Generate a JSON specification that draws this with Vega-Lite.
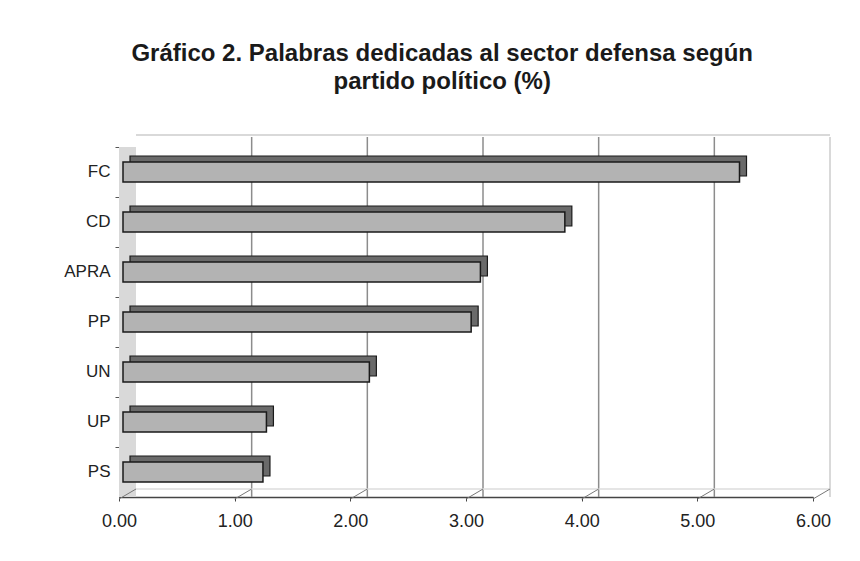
{
  "$schema": "https://vega.github.io/schema/vega-lite/v6.json",
  "width": 694,
  "height": 350,
  "autosize": {"type": "none"},
  "padding": {"left": 119, "top": 147, "right": 47, "bottom": 64},
  "background": "white",
  "title": {
    "text": ["Gráfico 2. Palabras dedicadas al sector defensa según", "partido político (%)"],
    "font": "Liberation Sans",
    "fontSize": 24,
    "fontWeight": "bold",
    "color": "#1a1a1a",
    "lineHeight": 28,
    "anchor": "middle",
    "frame": "bounds",
    "dx": -5,
    "offset": 40
  },
  "datasets": {
    "partidos": [
      {"partido": "FC", "valor": 5.33},
      {"partido": "CD", "valor": 3.82},
      {"partido": "APRA", "valor": 3.09},
      {"partido": "PP", "valor": 3.01},
      {"partido": "UN", "valor": 2.13},
      {"partido": "UP", "valor": 1.24},
      {"partido": "PS", "valor": 1.21}
    ],
    "marcas": [
      {"v": 0}, {"v": 1}, {"v": 2}, {"v": 3}, {"v": 4}, {"v": 5}, {"v": 6}
    ]
  },
  "config": {
    "view": {"stroke": null},
    "axis": {"labelFont": "Liberation Sans", "labelColor": "#222222", "labelFontSize": 18}
  },
  "layer": [
    {
      "data": {"values": [{}]},
      "mark": {"type": "rect", "fill": "#d9d9d9", "x2Offset": 17},
      "encoding": {
        "x": {"datum": 0, "type": "quantitative", "scale": {"domain": [0, 6]}},
        "x2": {"datum": 0}
      }
    },
    {
      "data": {"name": "marcas"},
      "transform": [{"filter": "datum.v > 0"}],
      "mark": {"type": "rule", "xOffset": 17, "yOffset": -10, "strokeWidth": 1.5},
      "encoding": {
        "x": {"field": "v", "type": "quantitative", "scale": {"domain": [0, 6]}},
        "color": {"condition": {"test": "datum.v == 6", "value": "#cccccc"}, "value": "#8c8c8c"}
      }
    },
    {
      "data": {"values": [{}]},
      "mark": {"type": "rule", "color": "#cccccc", "strokeWidth": 1.5, "xOffset": 17, "x2Offset": 17, "yOffset": -12, "y2Offset": -12},
      "encoding": {
        "x": {"datum": 0, "type": "quantitative"},
        "x2": {"datum": 6},
        "y": {"datum": "FC", "type": "nominal", "bandPosition": 0, "scale": {"domain": ["FC", "CD", "APRA", "PP", "UN", "UP", "PS"]}}
      }
    },
    {
      "data": {"values": [{}]},
      "mark": {"type": "rule", "color": "#dddddd", "strokeWidth": 1.5, "xOffset": 17, "x2Offset": 17, "yOffset": -8, "y2Offset": -8},
      "encoding": {
        "x": {"datum": 0, "type": "quantitative"},
        "x2": {"datum": 6},
        "y": {"datum": "PS", "type": "nominal", "bandPosition": 1, "scale": {"domain": ["FC", "CD", "APRA", "PP", "UN", "UP", "PS"]}}
      }
    },
    {
      "data": {"name": "marcas"},
      "mark": {"type": "rule", "color": "#777777", "strokeWidth": 1, "x2Offset": 17, "yOffset": 2, "y2Offset": -8},
      "encoding": {
        "x": {"field": "v", "type": "quantitative"},
        "x2": {"field": "v"},
        "y": {"datum": "PS", "type": "nominal", "bandPosition": 1, "scale": {"domain": ["FC", "CD", "APRA", "PP", "UN", "UP", "PS"]}},
        "y2": {"datum": "PS", "bandPosition": 1}
      }
    },
    {
      "data": {"name": "partidos"},
      "mark": {"type": "bar", "size": 20, "xOffset": 11, "yOffset": -6, "fill": "#6a6a6a", "stroke": "#1a1a1a", "strokeWidth": 1.2},
      "encoding": {
        "y": {"field": "partido", "type": "nominal", "sort": null, "scale": {"domain": ["FC", "CD", "APRA", "PP", "UN", "UP", "PS"]}},
        "x": {"field": "valor", "type": "quantitative", "scale": {"domain": [0, 6]}}
      }
    },
    {
      "data": {"name": "partidos"},
      "mark": {"type": "bar", "size": 20, "xOffset": 4, "fill": "#b3b3b3", "stroke": "#1a1a1a", "strokeWidth": 1.5},
      "encoding": {
        "y": {
          "field": "partido", "type": "nominal", "sort": null, "title": null,
          "scale": {"domain": ["FC", "CD", "APRA", "PP", "UN", "UP", "PS"]},
          "axis": {"bandPosition": 0, "domainColor": "#555555", "tickColor": "#555555", "tickSize": 4, "labelPadding": 5, "grid": false, "labelFontSize": 17}
        },
        "x": {
          "field": "valor", "type": "quantitative", "title": null,
          "scale": {"domain": [0, 6]},
          "axis": {"values": [0, 1, 2, 3, 4, 5, 6], "format": ".2f", "labelFlush": false, "domainColor": "#444444", "domainWidth": 1.5, "tickColor": "#444444", "tickSize": 4, "labelPadding": 11, "grid": false}
        }
      }
    }
  ]
}
